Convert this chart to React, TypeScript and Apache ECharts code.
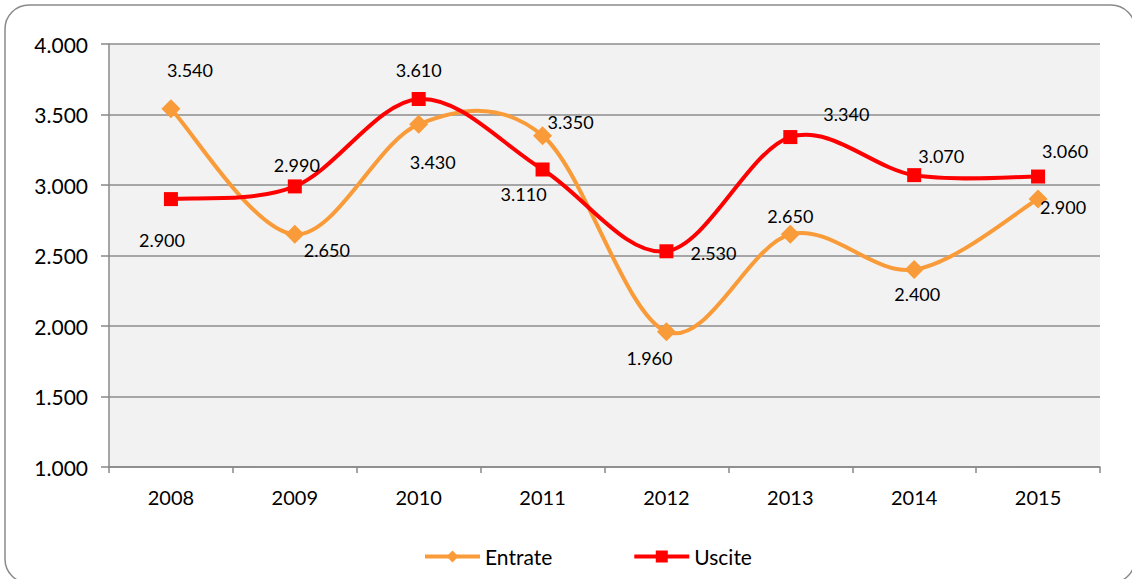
import React, { useEffect, useRef } from "react";
import * as echarts from "echarts";

const years = ["2008", "2009", "2010", "2011", "2012", "2013", "2014", "2015"];
const entrate = [3540, 2650, 3430, 3350, 1960, 2650, 2400, 2900];
const uscite = [2900, 2990, 3610, 3110, 2530, 3340, 3070, 3060];
const entrateOffsets = [[19, -39], [32, 16], [14, 38], [28, -14], [-17, 26], [0, -18], [3, 24], [25, 8]];
const usciteOffsets = [[-9, 41], [2, -21], [0, -29], [-19, 25], [47, 2], [56, -23], [27, -19], [27, -26]];

const FONT = "Lato, 'Liberation Sans', sans-serif";
const ORANGE = "#F99B38";
const RED = "#FF0000";
const fmt = (v: number) => (v / 1000).toFixed(3);
const TENSION = 1 / 6;

function curveSeries(name: string, vals: number[], color: string, z: number) {
  return {
    name,
    type: "custom",
    coordinateSystem: "cartesian2d",
    data: vals.slice(0, -1).map((v, i) => [i, v]),
    silent: true,
    z,
    renderItem: (params: any, api: any) => {
      const i = api.value(0);
      const n = vals.length;
      const pt = (j: number) => {
        const k = Math.max(0, Math.min(n - 1, j));
        return api.coord([k, vals[k]]);
      };
      const p0 = pt(i - 1);
      const p1 = pt(i);
      const p2 = pt(i + 1);
      const p3 = pt(i + 2);
      return {
        type: "bezierCurve",
        shape: {
          x1: p1[0],
          y1: p1[1],
          x2: p2[0],
          y2: p2[1],
          cpx1: p1[0] + (p2[0] - p0[0]) * TENSION,
          cpy1: p1[1] + (p2[1] - p0[1]) * TENSION,
          cpx2: p2[0] - (p3[0] - p1[0]) * TENSION,
          cpy2: p2[1] - (p3[1] - p1[1]) * TENSION,
        },
        style: { stroke: color, lineWidth: 4, fill: "none", lineCap: "round" },
      };
    },
  };
}

export default function App() {
  const ref = useRef<HTMLDivElement>(null);
  useEffect(() => {
    document.body.style.margin = "0";
    const chart = echarts.init(ref.current!, null, { renderer: "svg" });
    const mk = (vals: number[], offs: number[][]) =>
      vals.map((v, i) => ({
        value: v,
        label: { show: true, position: "inside", offset: offs[i] },
      }));
    const labelStyle = {
      formatter: (p: any) => fmt(p.value),
      fontFamily: FONT,
      fontSize: 18,
      color: "#000",
    };
    chart.setOption({
      animation: false,
      backgroundColor: "#ffffff",
      graphic: [
        {
          type: "rect",
          shape: { x: 5, y: 5, width: 1130, height: 578, r: 24 },
          style: { fill: "none", stroke: "#8a8a8a", lineWidth: 1.5 },
          silent: true,
          z: -1,
        },
      ],
      grid: {
        left: 109,
        right: 32,
        top: 44,
        bottom: 112,
        show: true,
        backgroundColor: "#f2f2f2",
        borderWidth: 0,
      },
      legend: {
        bottom: 7,
        left: 418,
        itemWidth: 55,
        itemHeight: 15,
        itemGap: 80,
        textStyle: { fontFamily: FONT, fontSize: 21, color: "#000" },
        data: [
          { name: "Entrate", lineStyle: { width: 4, opacity: 1, color: ORANGE } },
          { name: "Uscite", lineStyle: { width: 4, opacity: 1, color: RED } },
        ],
      },
      xAxis: {
        type: "category",
        data: years,
        boundaryGap: true,
        axisLine: { show: true, lineStyle: { color: "#888", width: 1.5 } },
        axisTick: { show: true, length: 6, lineStyle: { color: "#888", width: 1.5 } },
        axisLabel: { fontFamily: FONT, fontSize: 20, color: "#000", margin: 20 },
        splitLine: { show: false },
      },
      yAxis: {
        type: "value",
        min: 1000,
        max: 4000,
        interval: 500,
        axisLine: { show: true, lineStyle: { color: "#888", width: 1.5 } },
        axisTick: { show: true, length: 8, lineStyle: { color: "#888", width: 1.5 } },
        axisLabel: { fontFamily: FONT, fontSize: 21, color: "#000", margin: 21, formatter: fmt },
        splitLine: { show: true, lineStyle: { color: "#8c8c8c", width: 1.5 } },
      },
      series: [
        curveSeries("Entrate curve", entrate, ORANGE, 2),
        curveSeries("Uscite curve", uscite, RED, 4),
        {
          name: "Entrate",
          type: "line",
          data: mk(entrate, entrateOffsets),
          symbol: "diamond",
          symbolSize: 19,
          itemStyle: { color: ORANGE },
          lineStyle: { color: ORANGE, width: 4, opacity: 0 },
          label: labelStyle,
          z: 3,
        },
        {
          name: "Uscite",
          type: "line",
          data: mk(uscite, usciteOffsets),
          symbol: "rect",
          symbolSize: 14,
          itemStyle: { color: RED },
          lineStyle: { color: RED, width: 4, opacity: 0 },
          label: labelStyle,
          z: 5,
        },
      ],
    });
    return () => chart.dispose();
  }, []);
  return <div ref={ref} style={{ width: 1132, height: 579 }} />;
}
